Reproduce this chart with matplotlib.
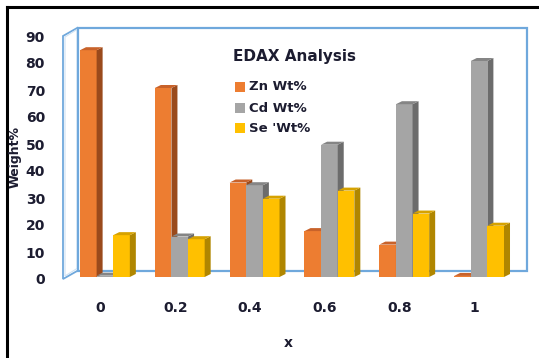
import matplotlib
matplotlib.use("Agg")
import matplotlib.pyplot as plt
from matplotlib.patches import Polygon, Rectangle
from matplotlib.transforms import IdentityTransform
import numpy as np

categories = ["0", "0.2", "0.4", "0.6", "0.8", "1"]
series_names = ["Zn Wt%", "Cd Wt%", "Se 'Wt%"]
zn = [84, 70, 35, 17, 12, 0.4]
cd = [0.5, 15, 34, 49, 64, 80]
se = [15.5, 14, 29, 32, 23.5, 19]
yticks = [0, 10, 20, 30, 40, 50, 60, 70, 80, 90]

W, H = 539, 358
fig = plt.figure(figsize=(W / 100, H / 100), dpi=100)
fig.patch.set_facecolor("white")
FONT = "DejaVu Sans"
TXT = "#1c1c30"

def fx(px):
    return px / W

def fy(py):
    return 1 - py / H

# outer black frame (top and left visible)
fig.add_artist(plt.Line2D([fx(7), fx(545)], [fy(7), fy(7)], color="black", lw=2.2, transform=fig.transFigure))
fig.add_artist(plt.Line2D([fx(7), fx(7)], [fy(7), fy(365)], color="black", lw=2.2, transform=fig.transFigure))

ax = fig.add_axes([fx(63), fy(279), fx(512) - fx(63), fy(36) - fy(279)])
ax.set_xlim(-0.5, len(categories) - 0.5)
ax.set_ylim(0, 90)
for s in ax.spines.values():
    s.set_visible(False)
ax.set_facecolor("none")
ax.set_xticks(range(len(categories)))
ax.set_xticklabels(categories)
ax.set_yticks(yticks)
for lab in ax.get_xticklabels() + ax.get_yticklabels():
    lab.set_fontfamily(FONT)
    lab.set_fontweight("bold")
    lab.set_fontsize(10)
    lab.set_color(TXT)
ax.tick_params(axis="x", length=0, pad=16)
ax.tick_params(axis="y", length=0, pad=13)

fig.text(fx(288), fy(343), "x", ha="center", va="center",
         fontfamily=FONT, fontweight="bold", fontsize=10, color=TXT)
fig.text(fx(15), fy(157), "Weight%", rotation=90, ha="center", va="center",
         fontfamily=FONT, fontweight="bold", fontsize=9, color=TXT)

T = ax.transData
ID = IdentityTransform()
wall_col = "#6fa8dc"
ddx, ddy = 15, 8.5  # depth offset in pixels (display up is +)

def P(x, y):
    return T.transform((x, y))

x0, x1 = -0.5, len(categories) - 0.5
fl = P(x0, 0); ftl = P(x0, 90); fr = P(x1, 0); ftr = P(x1, 90)
bl = fl + [ddx, ddy]; btl = ftl + [ddx, ddy]; br = fr + [ddx, ddy]; btr = ftr + [ddx, ddy]

# left wall
ax.add_patch(Polygon([fl, ftl, btl, bl], closed=True, facecolor="white", edgecolor=wall_col,
                     lw=1.3, transform=ID, zorder=1, clip_on=False))
inner = [fl + [2, 3], ftl + [2, -1], btl + [-1, -2], bl + [-1, 2]]
ax.add_patch(Polygon(inner, closed=True, facecolor="none", edgecolor="#cfe2f3",
                     lw=0.8, transform=ID, zorder=1, clip_on=False))
# back wall
ax.add_patch(Polygon([bl, btl, btr, br], closed=True, facecolor="white", edgecolor=wall_col,
                     lw=1.6, transform=ID, zorder=1, clip_on=False))

colors = {
    0: ("#ED7D31", "#9A4A1C", "#C8622A"),
    1: ("#A5A5A5", "#6C6C6C", "#858585"),
    2: ("#FFC000", "#B08600", "#D6A200"),
}
data = [zn, cd, se]
bw = 0.222
shift = np.array([4.5, 2.0])
bd = np.array([6.0, 3.0])

z = 5
for ci in range(len(categories)):
    for si, vals in enumerate(data):
        v = vals[ci]
        left = ci + (si - 1.5) * bw
        right = left + bw
        p_bl = P(left, 0) + shift
        p_br = P(right, 0) + shift
        p_tl = P(left, v) + shift
        p_tr = P(right, v) + shift
        fc, sc, tc = colors[si]
        ax.add_patch(Polygon([p_bl, p_br, p_tr, p_tl], closed=True, facecolor=fc,
                             edgecolor="none", transform=ID, zorder=z, clip_on=False))
        ax.add_patch(Polygon([p_br, p_br + bd, p_tr + bd, p_tr], closed=True, facecolor=sc,
                             edgecolor="none", transform=ID, zorder=z, clip_on=False))
        ax.add_patch(Polygon([p_tl, p_tr, p_tr + bd, p_tl + bd], closed=True, facecolor=tc,
                             edgecolor="none", transform=ID, zorder=z, clip_on=False))
        z += 1

# legend
fig.text(fx(233), fy(57), "EDAX Analysis", ha="left", va="center",
         fontfamily=FONT, fontweight="bold", fontsize=11, color=TXT)
rows = [87, 108, 128]
for si, name in enumerate(series_names):
    fig.add_artist(Rectangle((fx(235), fy(rows[si] + 5)), fx(10), fy(0) - fy(10),
                             facecolor=colors[si][0], edgecolor="none", transform=fig.transFigure))
    fig.text(fx(249), fy(rows[si]), name, ha="left", va="center",
             fontfamily=FONT, fontweight="bold", fontsize=9.5, color=TXT)

fig.savefig("out.png", dpi=100)
